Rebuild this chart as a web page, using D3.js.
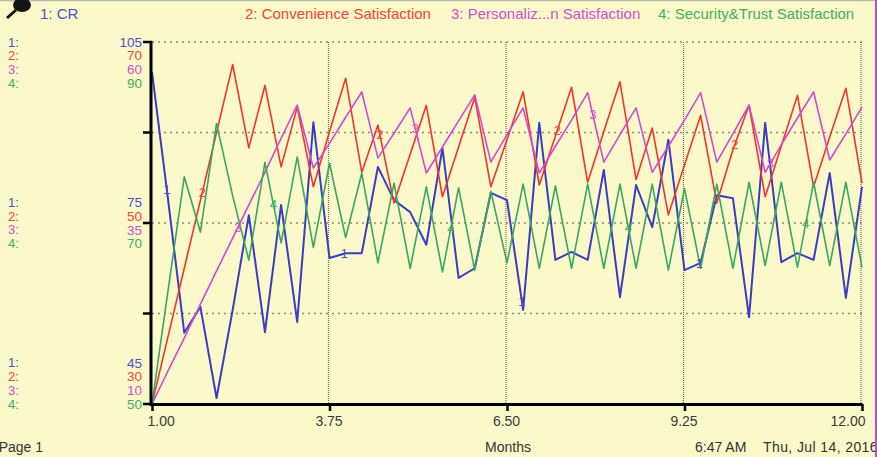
<!DOCTYPE html>
<html>
<head>
<meta charset="utf-8">
<script src="https://cdn.jsdelivr.net/npm/d3@7"></script>
<style>
body{margin:0;background:#fbf9c9;}
svg{display:block;font-family:"Liberation Sans",Arial,sans-serif;}
</style>
</head>
<body>
<script>
// time grid of the run (months), one point every 0.25 month
const START_MONTH=1, DT=0.25
const monthTicks=[1,3.75,6.5,9.25,12]
const monthTickLabels=["1.00","3.75","6.50","9.25","12.00"]

const seriesNames=["CR","Convenience Satisfaction","Personaliz...n  Satisfaction","Security&Trust Satisfaction"]
const seriesMin=[45,30,10,50]
const seriesMax=[105,70,60,90]
const seriesMid=[75,50,35,70]

// 1: CR
const cr=[100.0,78.8,56.8,61.1,46.0,60.6,76.3,56.9,78.0,58.6,91.7,69.2,70.0,70.0,84.3,78.8,76.8,71.4,87.4,65.9,67.5,80.0,78.8,
	60.6,91.6,68.9,70.2,68.9,83.8,62.7,81.3,74.3,88.8,67.2,68.4,79.6,79.1,59.4,91.6,68.5,70.0,68.9,83.3,62.6,81.0]
// 2: Convenience Satisfaction
const convenience=[30,37.5,45,52.5,60,67.5,58.3,65.2,56.2,62.8,54.0,60.1,66.0,55.6,60.8,52.2,57.6,63.0,52.9,58.4,63.9,54.0,59.2,
	64.5,54.2,59.6,65.0,54.5,60.1,65.6,54.8,60.5,50.9,56.4,61.9,52.2,58.1,63.0,52.9,58.5,64.1,54.0,59.5,64.9,54.4]
// 3: Personalization Satisfaction
const personalization=[10,14.6,19.1,23.8,28.4,32.9,37.5,42.0,46.7,51.3,42.6,46.0,49.6,53.1,44.0,47.4,50.9,41.9,45.5,49.1,52.7,43.4,47.2,
	50.9,41.9,45.6,49.2,53.0,43.4,47.2,50.9,42.0,45.6,49.2,53.0,43.4,47.3,51.3,42.0,45.8,49.5,53.1,43.7,47.3,51.0]
// 4: Security&Trust Satisfaction
const security=[50,62.6,75.1,69.0,81.0,73.0,65.9,76.7,67.8,77.3,67.3,76.6,68.4,75.5,65.6,74.4,65.0,74.0,64.6,73.9,64.8,73.5,65.6,
	74.3,65.0,74.1,65.0,74.3,65.0,74.3,65.0,74.3,64.8,73.8,65.0,74.3,65.0,74.5,65.3,74.5,65.1,74.5,65.3,74.5,65.1]

const allSeries=[cr,convenience,personalization,security]
const months=cr.map((d,i)=>START_MONTH+i*DT)

var lineColor=["#3b3cc4","#f0352b","#d04ad4","#35a862"]
var textColor=["#4a4fd0","#f0443a","#d050d0","#3fae63"]

var W=877,H=457
var plot={left:152,right:862,top:42,bottom:404}

const svg=d3.select("body").append("svg").attr("width",W).attr("height",H)
svg.append("rect").attr("width",W).attr("height",H).attr("fill","#fbf9c9")
svg.append("line").attr("x1",0).attr("x2",W).attr("y1",0.5).attr("y2",0.5).attr("stroke","#b8b8b0").attr("stroke-width",1.5)

// pin icon top-left
svg.append("ellipse").attr("cx",22).attr("cy",5).attr("rx",9).attr("ry",7).attr("fill","#151515")
svg.append("line").attr("x1",16).attr("y1",10).attr("x2",7).attr("y2",18).attr("stroke","#151515").attr("stroke-width",3)

const x=d3.scaleLinear().domain([1,12]).range([plot.left,plot.right])
const yScales=allSeries.map((s,i)=>d3.scaleLinear().domain([seriesMin[i],seriesMax[i]]).range([plot.bottom,plot.top]))
const yGrid=d3.scaleLinear().domain([0,4]).range([plot.bottom,plot.top])

// legend
{
	let lx=[40,245,451,658]
	seriesNames.forEach((n,i)=>{
		svg.append("text").attr("x",lx[i]).attr("y",18.5).attr("font-size",15)
			.attr("fill",textColor[i]).text((i+1)+": "+n)
	})
}

// dotted grid
{
	let g=svg.append("g")
	g.selectAll("line.h").data([1,2,3,4]).join("line").attr("class","h")
		.attr("x1",plot.left).attr("x2",plot.right)
		.attr("y1",d=>yGrid(d)).attr("y2",d=>yGrid(d))
		.attr("stroke","#8a8a78").attr("stroke-width",1.6).attr("stroke-dasharray","2,4")
	g.selectAll("line.v").data(monthTicks.slice(1)).join("line").attr("class","v")
		.attr("x1",d=>x(d)-1).attr("x2",d=>x(d)-1)
		.attr("y1",plot.top).attr("y2",plot.bottom)
		.attr("stroke","#6f6f60").attr("stroke-width",1.2).attr("stroke-dasharray","1,1")
}

// series lines
const line=(i)=>d3.line().x((d,k)=>x(months[k])).y(d=>yScales[i](d))
allSeries.forEach((s,i)=>{
	svg.append("path").attr("d",line(i)(s)).attr("fill","none")
		.attr("stroke",lineColor[i]).attr("stroke-width",i==0?2:1.6).attr("stroke-linejoin","round")
})

// number labels sitting on the lines
allSeries.forEach((s,i)=>{
	for(let j=0;j<4;j++){
		let t=1.23+0.55*i+2.75*j
		let k=Math.floor((t-START_MONTH)/DT)
		let f=(t-months[k])/DT
		let v=s[k]+(s[k+1]-s[k])*f
		svg.append("text").attr("x",x(t)).attr("y",yScales[i](v)).attr("dy","0.35em")
			.attr("text-anchor","middle").attr("font-size",13).attr("fill",textColor[i]).text(i+1)
	}
})

// left axis with tick marks
svg.append("line").attr("x1",plot.left-1).attr("x2",plot.left-1).attr("y1",plot.top-1).attr("y2",plot.bottom+2)
	.attr("stroke","#000").attr("stroke-width",3)
svg.selectAll("line.lt").data([0,1,2,3,4]).join("line").attr("class","lt")
	.attr("x1",plot.left-9).attr("x2",plot.left).attr("y1",d=>yGrid(d)).attr("y2",d=>yGrid(d))
	.attr("stroke","#000").attr("stroke-width",2.5)

// bottom axis
{
	let ax=d3.axisBottom(x).tickValues(monthTicks).tickFormat((d,i)=>monthTickLabels[i]).tickSize(7).tickSizeOuter(0)
	let g=svg.append("g").attr("transform","translate(0,"+plot.bottom+")").call(ax)
	g.select(".domain").attr("stroke","#000").attr("stroke-width",3)
	g.selectAll(".tick line").attr("stroke","#000").attr("stroke-width",2.5)
	g.selectAll(".tick text").attr("font-size",14).attr("fill","#3a3a3a").attr("y",12)
		.attr("font-family","'Liberation Sans',Arial,sans-serif")
		.attr("text-anchor",(d,i)=>i==0?"start":(i==monthTicks.length-1?"end":"middle"))
		.attr("dx",(d,i)=>i==0?"-5":(i==monthTicks.length-1?"3":"-1"))
}

// scale labels: top, middle, bottom group for each series
{
	let step=13.7
	let groups=[
		{vals:seriesMax,y0:plot.top},
		{vals:seriesMid,y0:yGrid(2)-step*1.5},
		{vals:seriesMin,y0:plot.bottom-step*3}
	]
	groups.forEach(gr=>{
		gr.vals.forEach((v,i)=>{
			let yy=gr.y0+i*step
			svg.append("text").attr("x",8).attr("y",yy).attr("dy","0.35em").attr("font-size",13)
				.attr("fill",textColor[i]).text((i+1)+":")
			svg.append("text").attr("x",142).attr("y",yy).attr("dy","0.35em").attr("font-size",13.5)
				.attr("text-anchor","end").attr("fill",textColor[i]).text(v)
		})
	})
}

// footer
svg.append("text").attr("x",43).attr("y",452).attr("text-anchor","end").attr("font-size",14).attr("fill","#333").text("Page 1")
svg.append("text").attr("x",508).attr("y",452).attr("text-anchor","middle").attr("font-size",14).attr("fill","#333").text("Months")
svg.append("text").attr("x",695).attr("y",452).attr("font-size",14).attr("fill","#333").text("6:47 AM")
svg.append("text").attr("x",763).attr("y",452).attr("font-size",14).attr("letter-spacing",0.4).attr("fill","#333").text("Thu, Jul 14, 2016")

svg.append("rect").attr("x",875).attr("y",0).attr("width",2).attr("height",H).attr("fill","#a656c8")
</script>
</body>
</html>
